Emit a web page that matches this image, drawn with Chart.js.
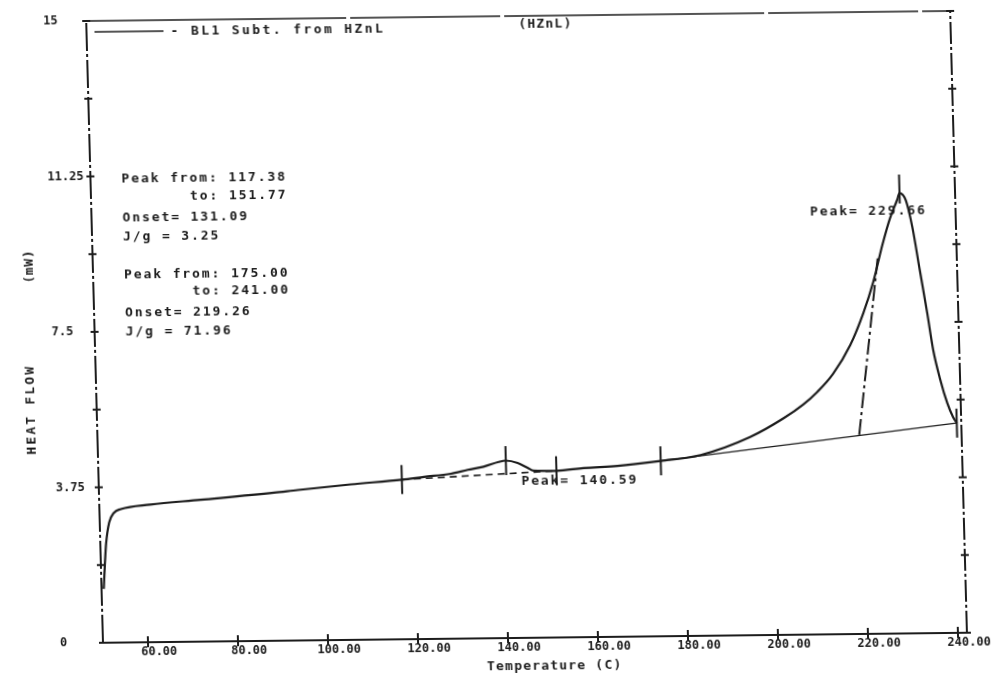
<!DOCTYPE html>
<html>
<head>
<meta charset="utf-8">
<script src="https://cdn.jsdelivr.net/npm/chart.js@4.4.1/dist/chart.umd.min.js"></script>
<style>
html, body { margin: 0; padding: 0; background: #fff; overflow: hidden; }
#sheet {
  position: absolute; left: 0; top: 0; width: 992px; height: 680px;
  /* plotter sheet sits slightly askew on the page */
  transform-origin: 103px 643px;
  transform: matrix(1, -0.0116, 0.027, 1, 0, 0);
}
canvas { display: block; }
</style>
</head>
<body>
<div id="sheet"><canvas id="dsc" width="992" height="680"></canvas></div>
<script>
// DSC heating scan of HZnL: heat flow (mW) against temperature (C)
const temperature = [50.5, 50.9, 51.3, 52.1, 53.2, 54.8, 61.3, 72.6, 88.9, 94.2,
  106.0, 117.38, 122.3, 128.3, 132.1, 135.6, 139.0, 140.59, 143.2, 145.4,
  146.7, 151.77, 157.8, 165.4, 175.0, 183.9, 195.0, 202.5, 207.0, 210.2, 213.8,
  217.8, 220.9, 223.3, 225.6, 227.4, 229.1, 229.66, 231.0, 232.3,
  233.7, 235.1, 236.2, 237.6, 239.0, 240.2, 241.0];
const heatFlow = [1.30, 1.90, 2.40, 2.90, 3.13, 3.22, 3.32, 3.42, 3.57, 3.63,
  3.75, 3.85, 3.91, 3.98, 4.07, 4.14, 4.25, 4.28, 4.22, 4.10,
  4.03, 4.02, 4.08, 4.12, 4.23, 4.36, 4.78, 5.22, 5.55, 5.85, 6.28,
  6.97, 7.74, 8.49, 9.40, 10.02, 10.46, 10.62, 10.45, 9.80,
  8.76, 7.72, 6.83, 6.11, 5.55, 5.21, 5.06];

// axis ticks
const xTicks = [60, 80, 100, 120, 140, 160, 180, 200, 220, 240];
const yTicks = [0, 3.75, 7.5, 11.25, 15];
const yTickLabels = ['0', '3.75', '7.5', '11.25', '15'];
const yMinorTicks = [1.875, 5.625, 9.375, 13.125];

// peak 1 integration (117.38 - 151.77)
const peak1Temps = [117.38, 151.77];
const peak1Base = [3.85, 4.02];
const peak1Max = 140.59;
// peak 2 integration (175.00 - 241.00)
const peak2Temps = [175.00, 241.00];
const peak2Base = [4.23, 5.06];
const peak2Max = 229.66;
// extrapolated onset of peak 2
const onsetTemps = [219.26, 224.4];
const onsetFlow = [4.80, 9.05];
// event marks placed by the analysis software
const eventTemps = [117.38, 140.59, 151.77, 175.00, 229.66, 241.00];

const reportLines = [
  'Peak from: 117.38',
  '       to: 151.77',
  'Onset= 131.09',
  'J/g = 3.25',
  'Peak from: 175.00',
  '       to: 241.00',
  'Onset= 219.26',
  'J/g = 71.96'
];

const INK = '#1c1c1c';
const MONO = '"DejaVu Sans Mono", "Liberation Mono", monospace';

function flowAt(t) {
  for (let i = 1; i < temperature.length; i++) {
    if (t <= temperature[i]) {
      const f = (t - temperature[i - 1]) / (temperature[i] - temperature[i - 1]);
      return heatFlow[i - 1] + f * (heatFlow[i] - heatFlow[i - 1]);
    }
  }
  return heatFlow[heatFlow.length - 1];
}

const curve = temperature.map((t, i) => ({ x: t, y: heatFlow[i] }));
const pairs = (xs, ys) => xs.map((x, i) => ({ x, y: ys[i] }));
const eventMarks = [];
eventTemps.forEach(t => {
  const v = flowAt(t) + (t === peak2Max ? 0.1 : 0);
  eventMarks.push({ x: t, y: v - 0.35 }, { x: t, y: v + 0.35 }, { x: t, y: null });
});

function label(ctx, s, x, y, size, spacing, align) {
  ctx.font = 'bold ' + size + 'px ' + MONO;
  ctx.letterSpacing = spacing + 'px';
  ctx.textAlign = align || 'left';
  ctx.textBaseline = 'middle';
  ctx.fillText(s, x, y);
}

const plotterSheet = {
  id: 'plotterSheet',
  beforeDatasetsDraw(chart) {
    const { ctx, chartArea: a, scales: { x, y } } = chart;
    ctx.save();
    ctx.strokeStyle = INK;
    ctx.lineCap = 'butt';
    // bottom axis
    ctx.lineWidth = 2;
    ctx.beginPath(); ctx.moveTo(a.left, a.bottom); ctx.lineTo(a.right, a.bottom); ctx.stroke();
    // left and right dash-dot rails
    ctx.setLineDash([28, 3, 3, 3]);
    ctx.beginPath(); ctx.moveTo(a.left, a.bottom); ctx.lineTo(a.left, a.top); ctx.stroke();
    ctx.setLineDash([22, 3, 3, 3]);
    ctx.beginPath(); ctx.moveTo(a.right, a.bottom); ctx.lineTo(a.right, a.top); ctx.stroke();
    // top rule
    ctx.lineWidth = 1.5;
    ctx.setLineDash([260, 4, 150, 4]);
    ctx.beginPath(); ctx.moveTo(a.left, a.top); ctx.lineTo(a.right, a.top); ctx.stroke();
    ctx.setLineDash([]);
    // crossing tick marks
    ctx.lineWidth = 2;
    xTicks.forEach(t => {
      const px = x.getPixelForValue(t);
      ctx.beginPath(); ctx.moveTo(px, a.bottom - 6); ctx.lineTo(px, a.bottom + 5); ctx.stroke();
    });
    yTicks.concat(yMinorTicks).forEach(v => {
      const py = y.getPixelForValue(v);
      [a.left, a.right].forEach(px => {
        ctx.beginPath(); ctx.moveTo(px - 4, py); ctx.lineTo(px + 4, py); ctx.stroke();
      });
    });
    ctx.restore();
  },
  afterDraw(chart) {
    const { ctx, chartArea: a, scales: { x, y } } = chart;
    ctx.save();
    ctx.fillStyle = INK;
    ctx.strokeStyle = INK;
    // legend entry
    ctx.lineWidth = 1.5;
    ctx.beginPath(); ctx.moveTo(a.left + 8, 32); ctx.lineTo(a.left + 77, 32); ctx.stroke();
    label(ctx, '- BL1 Subt. from HZnL', a.left + 84, 33, 13, 2.4);
    label(ctx, '(HZnL)', 535, 30, 13, 1.2);
    // integration report
    const rows = [180, 198, 219, 238, 276, 293, 314, 333];
    reportLines.forEach((s, i) => label(ctx, s, 134, rows[i], 13, 1.9));
    // peak labels
    const p2x = x.getPixelForValue(peak2Max), p2y = y.getPixelForValue(flowAt(peak2Max));
    label(ctx, 'Peak= ' + peak2Max.toFixed(2), p2x - 90, p2y + 18, 13, 1.9);
    const p1x = x.getPixelForValue(peak1Max), p1y = y.getPixelForValue(flowAt(peak1Max));
    label(ctx, 'Peak= ' + peak1Max.toFixed(2), p1x + 15, p1y + 21, 13, 1.9);
    // axis titles
    label(ctx, 'Temperature (C)', 554, 672, 13, 1.2, 'center');
    ctx.save();
    ctx.translate(38, 409); ctx.rotate(-Math.PI / 2);
    label(ctx, 'HEAT FLOW', 0, 0, 13, 2.2, 'center');
    ctx.restore();
    ctx.save();
    ctx.translate(40, 266); ctx.rotate(-Math.PI / 2);
    label(ctx, '(mW)', 0, 0, 13, 0.6, 'center');
    ctx.restore();
    ctx.restore();
  }
};

Chart.defaults.font.family = MONO;
Chart.defaults.font.weight = 'bold';
Chart.defaults.font.size = 12;
Chart.defaults.color = INK;

new Chart(document.getElementById('dsc'), {
  type: 'scatter',
  data: {
    datasets: [
      { data: curve, showLine: true, borderColor: INK, borderWidth: 2.2,
        pointRadius: 0, cubicInterpolationMode: 'monotone' },
      { data: pairs(peak2Temps, peak2Base), showLine: true, borderColor: INK,
        borderWidth: 1.3, pointRadius: 0 },
      { data: pairs(peak1Temps, peak1Base), showLine: true, borderColor: INK,
        borderWidth: 1.6, borderDash: [7, 5], pointRadius: 0 },
      { data: pairs(onsetTemps, onsetFlow), showLine: true, borderColor: INK,
        borderWidth: 2, borderDash: [16, 4, 3, 4], pointRadius: 0 },
      { data: eventMarks, showLine: true, spanGaps: false, borderColor: INK,
        borderWidth: 2, pointRadius: 0 }
    ]
  },
  options: {
    responsive: false,
    animation: false,
    devicePixelRatio: 1,
    layout: { padding: { left: 60, top: 21, right: 25, bottom: 0 } },
    plugins: { legend: { display: false }, tooltip: { enabled: false } },
    scales: {
      x: {
        type: 'linear', min: 50, max: 242,
        afterBuildTicks: s => { s.ticks = xTicks.map(v => ({ value: v })); },
        afterFit: s => { s.height = 37; },
        grid: { display: false, drawTicks: false },
        border: { display: false },
        ticks: { padding: 3, labelOffset: 11, maxRotation: 0, autoSkip: false,
                 callback: v => v.toFixed(2) }
      },
      y: {
        type: 'linear', min: 0, max: 15,
        afterBuildTicks: s => { s.ticks = yTicks.map(v => ({ value: v })); },
        afterFit: s => { s.width = 43; },
        grid: { display: false, drawTicks: false },
        border: { display: false },
        ticks: { crossAlign: 'far', padding: 0, autoSkip: false,
                 callback: (v) => yTickLabels[yTicks.indexOf(v)] }
      }
    }
  },
  plugins: [plotterSheet]
});
</script>
</body>
</html>
